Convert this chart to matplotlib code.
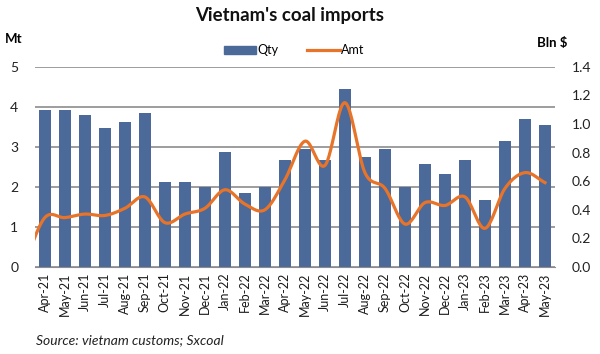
import numpy as np
import matplotlib
matplotlib.use("Agg")
import matplotlib.pyplot as plt
from matplotlib.patches import Patch
from matplotlib.lines import Line2D

plt.rcParams['font.family'] = ['Lato', 'DejaVu Sans']

months = ["Apr-21", "May-21", "Jun-21", "Jul-21", "Aug-21", "Sep-21", "Oct-21", "Nov-21",
          "Dec-21", "Jan-22", "Feb-22", "Mar-22", "Apr-22", "May-22", "Jun-22", "Jul-22",
          "Aug-22", "Sep-22", "Oct-22", "Nov-22", "Dec-22", "Jan-23", "Feb-23", "Mar-23",
          "Apr-23", "May-23"]
qty = [3.92, 3.92, 3.80, 3.47, 3.62, 3.85, 2.12, 2.12, 2.00, 2.88, 1.84, 2.00, 2.67,
       2.96, 2.67, 4.44, 2.75, 2.96, 2.00, 2.57, 2.33, 2.67, 1.68, 3.16, 3.71, 3.55]
# Amt (Bln $); amt_prev is the prior month (Mar-21) that lies left of the plot edge
amt_prev = 0.03
amt = [0.345, 0.345, 0.37, 0.36, 0.41, 0.49, 0.31, 0.37, 0.41, 0.54, 0.44, 0.40, 0.61,
       0.88, 0.71, 1.15, 0.66, 0.55, 0.30, 0.45, 0.43, 0.49, 0.27, 0.55, 0.66, 0.59]


def smooth(xs, ys, n=20):
    xs = np.asarray(xs, float)
    ys = np.asarray(ys, float)
    px = np.concatenate([[2 * xs[0] - xs[1]], xs, [2 * xs[-1] - xs[-2]]])
    py = np.concatenate([[2 * ys[0] - ys[1]], ys, [2 * ys[-1] - ys[-2]]])
    ox, oy = [], []
    t = np.linspace(0, 1, n, endpoint=False)
    for i in range(1, len(px) - 2):
        p0, p1, p2, p3 = py[i - 1], py[i], py[i + 1], py[i + 2]
        x0, x1, x2, x3 = px[i - 1], px[i], px[i + 1], px[i + 2]
        c = 1 / 6
        by1 = p1 + (p2 - p0) * c
        by2 = p2 - (p3 - p1) * c
        bx1 = x1 + (x2 - x0) * c
        bx2 = x2 - (x3 - x1) * c
        bx = (1 - t) ** 3 * x1 + 3 * (1 - t) ** 2 * t * bx1 + 3 * (1 - t) * t ** 2 * bx2 + t ** 3 * x2
        by = (1 - t) ** 3 * p1 + 3 * (1 - t) ** 2 * t * by1 + 3 * (1 - t) * t ** 2 * by2 + t ** 3 * p2
        ox.extend(bx)
        oy.extend(by)
    ox.append(xs[-1])
    oy.append(ys[-1])
    return np.array(ox), np.array(oy)


fig = plt.figure(figsize=(6, 3.54), dpi=100)
ax = fig.add_axes([0.058, 0.246, 0.867, 0.565])
x = np.arange(len(months))
ax.bar(x, qty, width=0.62, color='#4b6999', zorder=2)
ax.set_ylim(0, 5)
ax.set_xlim(-0.5, len(months) - 0.5)
ax.set_yticks(range(0, 6))
ax.yaxis.grid(True, color='#8c8c8c', linewidth=1.2, zorder=0)
ax.set_axisbelow(True)
ax.set_xticks(x)
ax.set_xticklabels(months, rotation=90, fontsize=9, color='#1a1a1a')
ax.tick_params(axis='both', length=0)
ax.tick_params(axis='x', pad=4)
ax.tick_params(axis='y', labelsize=10, pad=12, colors='#222222')
for s in ax.spines.values():
    s.set_visible(False)
ax.spines['bottom'].set_visible(True)
ax.spines['bottom'].set_color('#8c8c8c')

ax2 = ax.twinx()
lx, ly = smooth(np.arange(-1, len(months)), [amt_prev] + amt)
ax2.plot(lx, ly, color='#e8742a', linewidth=2.3, zorder=3, clip_on=True)
ax2.set_ylim(0, 1.4)
ax2.set_xlim(-0.5, len(months) - 0.5)
ax2.set_yticks(np.arange(0, 1.41, 0.2))
ax2.set_yticklabels([f"{v:.1f}" for v in np.arange(0, 1.41, 0.2)])
ax2.tick_params(axis='y', length=0, labelsize=10, pad=12, colors='#222222')
for s in ax2.spines.values():
    s.set_visible(False)

fig.text(0.482, 0.955, "Vietnam's coal imports", ha='center', va='center',
         fontsize=13.4, fontweight='bold', color='#111111')
fig.text(0.008, 0.89, "Mt", ha='left', va='center', fontsize=9.5, fontweight='bold')
fig.text(0.92, 0.878, "Bln $", ha='center', va='center', fontsize=9.5, fontweight='bold')
fig.text(0.06, 0.038, "Source: vietnam customs; Sxcoal", ha='left', va='center',
         fontsize=10, style='italic', color='#222222')

handles = [Patch(color='#4b6999', label='Qty'),
           Line2D([0], [0], color='#e8742a', linewidth=2.3, label='Amt')]
fig.legend(handles=handles, loc='center', bbox_to_anchor=(0.49, 0.858), ncol=2,
           frameon=False, fontsize=9, handlelength=2.6, handleheight=0.55,
           columnspacing=2.3, handletextpad=0.1)

fig.savefig("out.png", dpi=100)
